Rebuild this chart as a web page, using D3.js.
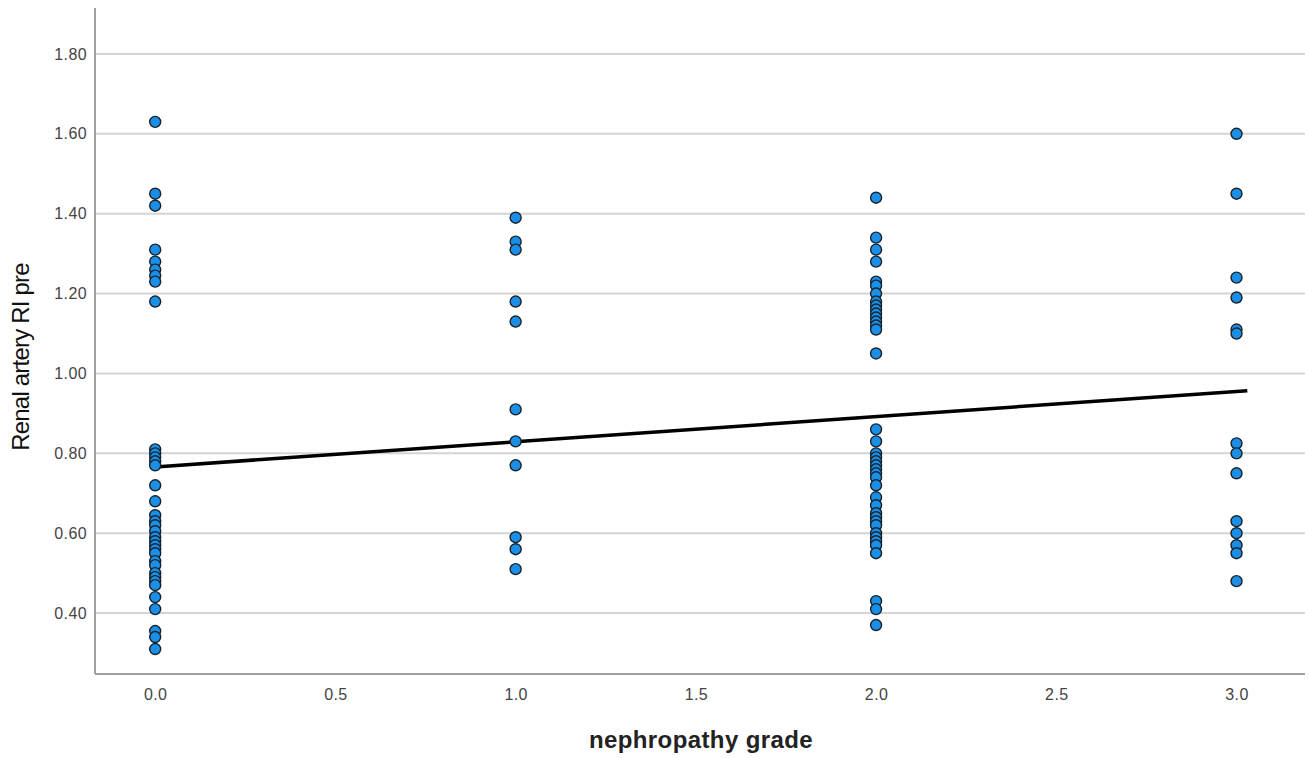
<!DOCTYPE html>
<html>
<head>
<meta charset="utf-8">
<script src="https://cdn.jsdelivr.net/npm/d3@7"></script>
<style>
  body { margin: 0; background: #fff; }
  svg { display: block; font-family: Arial, "Liberation Sans", sans-serif; }
  .tick text { fill: #444; font-size: 16px; letter-spacing: 0.4px; }
</style>
</head>
<body>
<script>
// data
var grade0 = [1.63, 1.45, 1.42, 1.31, 1.28, 1.26, 1.245, 1.23, 1.18,
    0.81, 0.80, 0.79, 0.78, 0.77, 0.72, 0.68,
    0.645, 0.63, 0.62, 0.605, 0.59, 0.58, 0.57, 0.56, 0.55, 0.53, 0.52, 0.50, 0.49, 0.48, 0.47,
    0.44, 0.41, 0.355, 0.34, 0.31];
var grade1 = [1.39, 1.33, 1.31, 1.18, 1.13, 0.91, 0.83, 0.77, 0.59, 0.56, 0.51];
var grade2 = [1.44, 1.34, 1.31, 1.28, 1.23, 1.22, 1.20, 1.18, 1.17, 1.16, 1.15, 1.14, 1.13, 1.12, 1.11, 1.05,
    0.86, 0.83, 0.80, 0.79, 0.78, 0.77, 0.76, 0.75, 0.74, 0.72, 0.69, 0.67, 0.65, 0.64, 0.63, 0.62,
    0.60, 0.59, 0.58, 0.57, 0.55, 0.43, 0.41, 0.37];
var grade3 = [1.60, 1.45, 1.24, 1.19, 1.11, 1.10, 0.825, 0.80, 0.75, 0.63, 0.60, 0.57, 0.55, 0.48];

var grades = [0, 1, 2, 3];
var xTicks = [0, 0.5, 1, 1.5, 2, 2.5, 3];
var yTicks = [0.4, 0.6, 0.8, 1.0, 1.2, 1.4, 1.6, 1.8];

// fit line
var fitIntercept = 0.766;
var fitSlope = 0.063;

var width = 1309, height = 758;
var plotLeft = 95, plotRight = 1305, plotTop = 8, plotBottom = 674;

var svg = d3.select("body").append("svg")
    .attr("width", width)
    .attr("height", height);

var x = d3.scaleLinear()
    .domain([-0.167, 3.19])
    .range([plotLeft, plotRight]);

var y = d3.scaleLinear()
    .domain([0.2475, 1.915])
    .range([plotBottom, plotTop]);

// gridlines
svg.append("g")
    .attr("class", "grid")
    .selectAll("line")
    .data(yTicks)
    .enter().append("line")
    .attr("x1", plotLeft)
    .attr("x2", plotRight)
    .attr("y1", function (d) { return y(d); })
    .attr("y2", function (d) { return y(d); })
    .attr("stroke", "#d4d4d4")
    .attr("stroke-width", 2);

// y axis
var yAxis = d3.axisLeft(y)
    .tickValues(yTicks)
    .tickFormat(d3.format(".2f"))
    .tickSize(0)
    .tickPadding(8);

var gy = svg.append("g")
    .attr("transform", "translate(" + plotLeft + ",0)")
    .call(yAxis);
gy.select(".domain").remove();

// x axis
var xAxis = d3.axisBottom(x)
    .tickValues(xTicks)
    .tickFormat(d3.format(".1f"))
    .tickSize(0)
    .tickPadding(15);

var gx = svg.append("g")
    .attr("transform", "translate(0," + plotBottom + ")")
    .call(xAxis);
gx.select(".domain").remove();

// axis frame lines
svg.append("line")
    .attr("x1", plotLeft).attr("x2", plotLeft)
    .attr("y1", plotTop).attr("y2", plotBottom)
    .attr("stroke", "#a0a0a0")
    .attr("stroke-width", 2);

svg.append("line")
    .attr("x1", plotLeft).attr("x2", plotRight)
    .attr("y1", plotBottom).attr("y2", plotBottom)
    .attr("stroke", "#a0a0a0")
    .attr("stroke-width", 2);

// points
var points = [];
[grade0, grade1, grade2, grade3].forEach(function (vals, i) {
    vals.forEach(function (v) {
        points.push({ g: grades[i], v: v });
    });
});

// fit line
svg.append("line")
    .attr("x1", x(0))
    .attr("y1", y(fitIntercept))
    .attr("x2", x(3.03))
    .attr("y2", y(fitIntercept + fitSlope * 3.03))
    .attr("stroke", "#000")
    .attr("stroke-width", 3.5);

svg.append("g")
    .attr("class", "points")
    .selectAll("circle")
    .data(points)
    .enter().append("circle")
    .attr("cx", function (d) { return x(d.g); })
    .attr("cy", function (d) { return y(d.v); })
    .attr("r", 5.5)
    .attr("fill", "#1b8fe6")
    .attr("stroke", "#18222c")
    .attr("stroke-width", 1.4);

// titles
svg.append("text")
    .attr("x", 701)
    .attr("y", 748)
    .attr("text-anchor", "middle")
    .style("font-size", "24px")
    .style("font-weight", "bold")
    .style("letter-spacing", "0.4px")
    .style("fill", "#222")
    .text("nephropathy grade");

svg.append("text")
    .attr("transform", "translate(29,357) rotate(-90)")
    .attr("text-anchor", "middle")
    .style("font-size", "24px")
    .style("fill", "#111")
    .style("letter-spacing", "-0.8px")
    .text("Renal artery RI pre");
</script>
</body>
</html>
